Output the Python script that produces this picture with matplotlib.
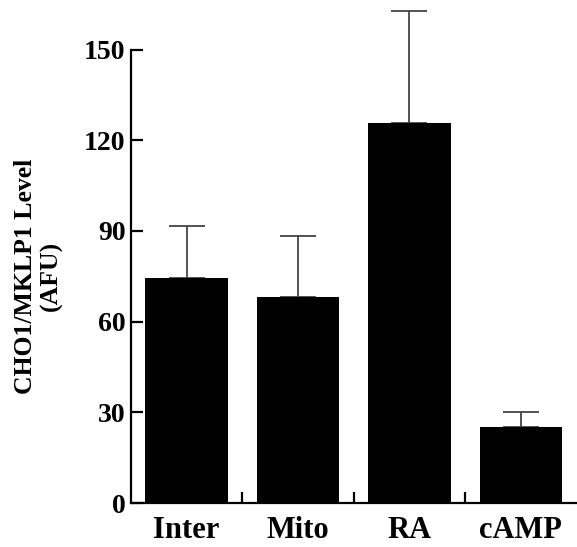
import matplotlib.pyplot as plt

plt.rcParams['font.family'] = 'Liberation Serif'
plt.rcParams['font.weight'] = 'bold'
plt.rcParams['axes.labelweight'] = 'bold'

groups = ['Inter', 'Mito', 'RA', 'cAMP']
levels = [74.5, 68.2, 125.7, 25.0]
errors = [17.2, 20.2, 37.2, 5.2]
yticks = [0, 30, 60, 90, 120, 150]

fig = plt.figure(figsize=(5.77, 5.47), dpi=100)
ax = fig.add_axes([0.227, 0.0804, 0.772, 0.912])

pos = list(range(len(groups)))
ax.bar(pos, levels, width=0.74, color='black', zorder=2)
# only the upper half of each error bar is drawn
ax.errorbar(pos, levels, yerr=[[0] * len(errors), errors], fmt='none',
            ecolor='#444444', elinewidth=1.3, capsize=13, capthick=1.3, zorder=1)

ax.set_xlim(-0.5, 3.5)
ax.set_ylim(0, 165)

for side in ('top', 'right'):
    ax.spines[side].set_visible(False)
ax.spines['left'].set_bounds(0, 150)
ax.spines['left'].set_linewidth(1.6)
ax.spines['bottom'].set_linewidth(1.6)

ax.set_yticks(yticks)
ax.tick_params(axis='y', direction='in', length=8.5, width=1.6, pad=4, labelsize=20)

# labels sit under the bars, tick marks go between them
ax.set_xticks(pos, groups)
ax.tick_params(axis='x', which='major', length=0, pad=9, labelsize=22)
ax.set_xticks([0.5, 1.5, 2.5], minor=True)
ax.tick_params(axis='x', which='minor', direction='in', length=8, width=1.6)

ax.set_ylabel('CHO1/MKLP1 Level\n(AFU)', fontsize=18.5, linespacing=1.15)
# centre the label on the 0-150 part of the axis, not on the full ylim
ax.yaxis.set_label_coords(-0.152, 75 / 165)

fig.savefig('out.png', dpi=100)
